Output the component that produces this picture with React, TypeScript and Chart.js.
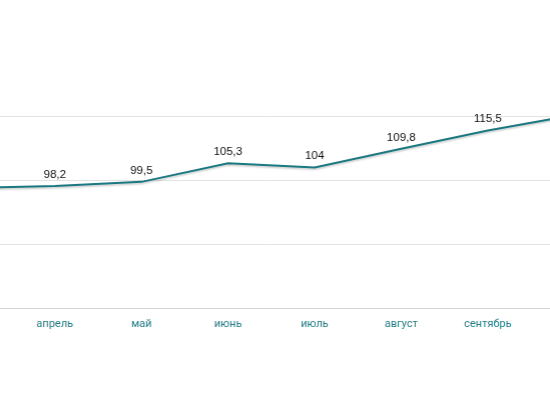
import React, { useEffect, useRef } from "react";
import { Chart, registerables } from "chart.js";

Chart.register(...registerables);

const categories = ["март", "апрель", "май", "июнь", "июль", "август", "сентябрь", "октябрь"];
const values = [97.6, 98.2, 99.5, 105.3, 104, 109.8, 115.5, 120.3];
const yTicks = [60, 80, 100, 120];
// categories lying outside the visible window (the reference is a cropped view)
const hiddenCategoryIdx = [0, 7];

const LINE_COLOR = "#1a7880";
const TICK_COLOR = "#247c84";

const shadowPlugin = {
  id: "lineShadow",
  beforeDatasetDraw(chart: any) {
    const ctx = chart.ctx;
    ctx.save();
    ctx.shadowColor = "rgba(0,0,0,0.22)";
    ctx.shadowBlur = 2;
    ctx.shadowOffsetY = 1.5;
  },
  afterDatasetDraw(chart: any) {
    chart.ctx.restore();
  },
};

const labelPlugin = {
  id: "valueLabels",
  afterDatasetsDraw(chart: any) {
    const ctx = chart.ctx;
    const meta = chart.getDatasetMeta(0);
    ctx.save();
    ctx.font = "11.5px 'Liberation Sans', Arial, sans-serif";
    ctx.fillStyle = "#111111";
    ctx.textAlign = "center";
    ctx.textBaseline = "alphabetic";
    meta.data.forEach((pt: any, i: number) => {
      const v = values[i];
      const txt = String(v).replace(".", ",");
      ctx.fillText(txt, pt.x, pt.y - 8);
    });
    ctx.restore();
  },
};

export default function App() {
  const ref = useRef<HTMLCanvasElement | null>(null);

  useEffect(() => {
    if (!ref.current) return;
    const chart = new Chart(ref.current, {
      type: "line",
      data: {
        labels: categories,
        datasets: [
          {
            data: values,
            borderColor: LINE_COLOR,
            borderWidth: 2,
            pointRadius: 0,
            tension: 0,
            fill: false,
            clip: false as any,
          },
        ],
      },
      options: {
        animation: false,
        responsive: true,
        maintainAspectRatio: false,
        layout: { padding: { top: 116, left: 0, right: 0, bottom: 70 } },
        plugins: {
          legend: { display: false },
          tooltip: { enabled: false },
        },
        scales: {
          x: {
            offset: true,
            grid: { display: false, drawTicks: false },
            border: { display: true, color: "#d4d4d4", width: 1 },
            ticks: {
              color: TICK_COLOR,
              font: { family: "Roboto, 'Open Sans', sans-serif", size: 11 },
              padding: 9,
              maxRotation: 0,
              autoSkip: false,
              callback: (_v: any, i: number) =>
                hiddenCategoryIdx.includes(i) ? "" : categories[i],
            },
          },
          y: {
            min: 60,
            max: 120,
            afterBuildTicks: (axis: any) => {
              axis.ticks = yTicks.map((v) => ({ value: v }));
            },
            grid: { color: "#e3e3e3", drawTicks: false },
            border: { display: false },
            ticks: { display: false },
          },
        },
      },
      plugins: [shadowPlugin, labelPlugin],
    });
    return () => chart.destroy();
  }, []);

  return (
    <div
      style={{
        position: "fixed",
        left: 0,
        top: 0,
        width: 550,
        height: 410,
        overflow: "hidden",
        background: "#ffffff",
      }}
    >
      <div style={{ position: "absolute", left: -75.8, top: 0, width: 693.6, height: 410 }}>
        <canvas ref={ref} />
      </div>
    </div>
  );
}
